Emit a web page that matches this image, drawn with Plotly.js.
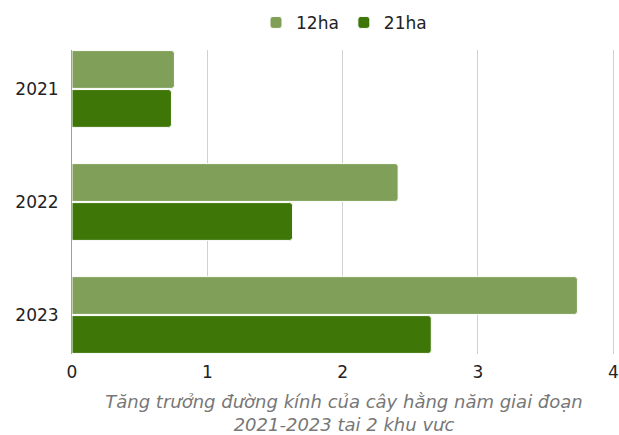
<!DOCTYPE html>
<html><head><meta charset="utf-8">
<script src="https://cdn.plot.ly/plotly-3.0.1.min.js"></script>
<style>html,body{margin:0;padding:0;background:#fff}</style>
</head><body><div id="chart" style="width:619px;height:435px"></div>
<script>
const years = ['2021', '2022', '2023'];
const series12 = [0.757, 2.41, 3.735];
const series21 = [0.735, 1.63, 2.655];
const seriesNames = ['12ha', '21ha'];
const xTicks = [0, 1, 2, 3, 4];

const font = 'DejaVu Sans, sans-serif';
const traces = [
  {type: 'bar', orientation: 'h', name: seriesNames[0], y: years, x: series12,
   marker: {color: '#80a05a', line: {color: '#ffffff', width: 1}, cornerradius: 3}},
  {type: 'bar', orientation: 'h', name: seriesNames[1], y: years, x: series21,
   marker: {color: '#3e7707', line: {color: '#ffffff', width: 1}, cornerradius: 3}}
];
const layout = {
  width: 619, height: 435,
  margin: {l: 72, r: 3, t: 50, b: 81},
  paper_bgcolor: '#fff', plot_bgcolor: '#fff',
  barmode: 'group', bargap: 0.31, bargroupgap: 0.03,
  font: {family: font, color: '#222', size: 17},
  showlegend: true,
  legend: {orientation: 'h', x: 0.5, xanchor: 'center', y: 1.03, yanchor: 'bottom',
           font: {size: 17, color: '#222'}, traceorder: 'normal', itemwidth: 20},
  xaxis: {range: [0, 4.02], tickvals: xTicks, showgrid: true, gridcolor: '#d0d0d0', gridwidth: 1,
          zeroline: false, showline: false, ticks: '', tickfont: {size: 17, color: '#222'},
          ticklabeloverflow: 'allow', ticklabelstandoff: 6,
          title: {text: 'Tăng trưởng đường kính của cây hằng năm giai đoạn<br>2021-2023 tai 2 khu vưc',
                  font: {size: 18, color: '#777', family: font, style: 'italic'}, standoff: 14}},
  yaxis: {type: 'category', categoryorder: 'array', categoryarray: years,
          range: [2.345, -0.345], showgrid: false, zeroline: false,
          showline: true, linecolor: '#a0a0a0', linewidth: 1, ticks: '',
          ticklabelstandoff: 9, tickfont: {size: 17, color: '#222'}}
};
Plotly.newPlot('chart', traces, layout, {displayModeBar: false, staticPlot: true});
</script></body></html>
